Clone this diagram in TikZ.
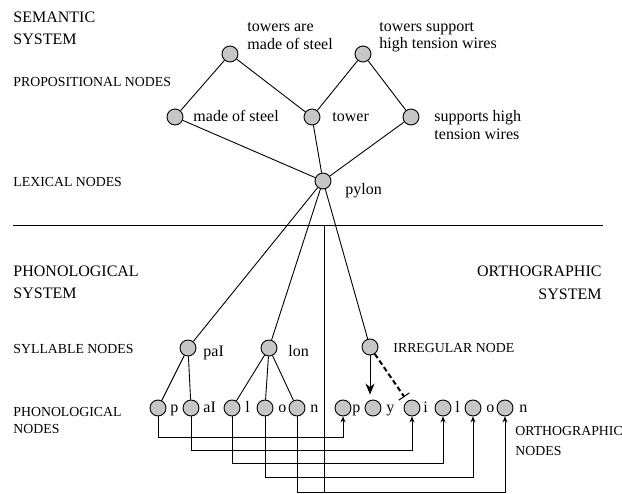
\documentclass[tikz,border=0pt]{standalone}
\usepackage{fontspec}
\setmainfont{LiberationSerif}[Extension=.ttf, UprightFont=*-Regular, BoldFont=*-Bold]
\usetikzlibrary{arrows.meta}
\definecolor{dotgray}{RGB}{198,198,198}
\begin{document}
\begin{tikzpicture}[x=1pt,y=-1pt, line width=0.9pt,
  dot/.style={circle,draw,fill=dotgray,minimum size=16pt,inner sep=0pt},
  big/.style={font=\rmfamily\fontsize{16}{18}\selectfont, inner sep=0pt, anchor=base west},
  lab/.style={font=\rmfamily\fontsize{16}{18}\selectfont, inner sep=0pt, anchor=base west},
  capsl/.style={font=\rmfamily\fontsize{13.8}{16}\selectfont, inner sep=0pt, anchor=base west},
  tipa/.style={-{Stealth[length=6pt,width=5pt]}},
  bigtip/.style={-{Stealth[length=11pt,width=9pt]}, shorten >=5pt},
  inhib/.style={line width=2pt, dash pattern=on 5pt off 3pt, -{Bar[width=13pt,line width=1pt]}, shorten >=5pt}
]
\useasboundingbox (0,0) rectangle (622,494);

% nodes
\node[dot] (tam) at (230,54) {};
\node[dot] (tsh) at (363,54) {};
\node[dot] (mos) at (175,117) {};
\node[dot] (tow) at (312,117) {};
\node[dot] (sht) at (411,117) {};
\node[dot] (pyl) at (323,181) {};
\node[dot] (pai) at (188,348) {};
\node[dot] (lon) at (269,348) {};
\node[dot] (irr) at (370,347) {};
\node[dot] (ph1) at (158,408) {};
\node[dot] (ph2) at (191,408) {};
\node[dot] (ph3) at (232,408) {};
\node[dot] (ph4) at (265,408) {};
\node[dot] (ph5) at (297,408) {};
\node[dot] (or1) at (343,408) {};
\node[dot] (or2) at (373,408) {};
\node[dot] (or3) at (412,408) {};
\node[dot] (or4) at (443,408) {};
\node[dot] (or5) at (473,408) {};
\node[dot] (or6) at (505,408) {};

% semantic links
\draw (tam) -- (mos);
\draw (tam) -- (tow);
\draw (tsh) -- (tow);
\draw (tsh) -- (sht);
\draw (mos) -- (pyl);
\draw (tow) -- (pyl);
\draw (sht) -- (pyl);
\draw (pyl) -- (pai);
\draw (pyl) -- (lon);
\draw (pyl) -- (irr);
\draw (pai) -- (ph1);
\draw (pai) -- (ph2);
\draw (lon) -- (ph3);
\draw (lon) -- (ph4);
\draw (lon) -- (ph5);

% divider
\coordinate (hl) at (13,225);
\coordinate (hr) at (603,225);
\draw (hl) -- (hr);
\coordinate (vt) at (324,225);
\coordinate (vb) at (324,492);
\draw (vt) -- (vb);

% phonological to orthographic
\coordinate (l1) at (0,437);
\coordinate (l2) at (0,450);
\coordinate (l3) at (0,463);
\coordinate (l4) at (0,477);
\coordinate (l5) at (0,492);
\draw[tipa] (ph1.south) |- (or1 |- l1) -- (or1.south);
\draw[tipa] (ph2.south) |- (or3 |- l2) -- (or3.south);
\draw[tipa] (ph3.south) |- (or4 |- l3) -- (or4.south);
\draw[tipa] (ph4.south) |- (or5 |- l4) -- (or5.south);
\draw[tipa] (ph5.south) |- (or6 |- l5) -- (or6.south);

% irregular node
\draw[bigtip] (irr) -- (irr |- or2.north);
\draw[inhib] (irr) -- (or3);

% left labels
\node[big] (s1a) at (13,23) {SEMANTIC};
\node[big] (s1b) at (13,45) {SYSTEM};
\node[capsl] (s2) at (13,87) {PROPOSITIONAL NODES};
\node[capsl] (s3) at (13,187) {LEXICAL NODES};
\node[big] (s4a) at (13,277) {PHONOLOGICAL};
\node[big] (s4b) at (13,299) {SYSTEM};
\node[capsl] (s5) at (13,354) {SYLLABLE NODES};
\node[capsl] (s6a) at (13,417) {PHONOLOGICAL};
\node[capsl] (s6b) at (13,434) {NODES};
\node[big,anchor=base east] (s7a) at (602,277) {ORTHOGRAPHIC};
\node[big,anchor=base east] (s7b) at (602,300) {SYSTEM};
\node[capsl] (s8a) at (515,436) {ORTHOGRAPHIC};
\node[capsl] (s8b) at (515,456) {NODES};
\node[capsl] (s9) at (393,353) {IRREGULAR NODE};

% node labels
\node[lab] (a1) at (247,32) {towers are};
\node[lab] (a2) at (247,50) {made of steel};
\node[lab] (b1) at (379,32) {towers support};
\node[lab] (b2) at (379,49) {high tension wires};
\node[lab] (c1) at (193,122) {made of steel};
\node[lab] (c2) at (332,122) {tower};
\node[lab] (c3) at (434,122) {supports high};
\node[lab] (c4) at (434,140) {tension wires};
\node[lab] (c5) at (345,195) {pylon};
\node[lab] (d1) at (203,357) {paI};
\node[lab] (d2) at (288,357) {lon};
\node[lab] (p1) at (170,413) {p};
\node[lab] (p2) at (203,413) {aI};
\node[lab] (p3) at (245,413) {l};
\node[lab] (p4) at (278,413) {o};
\node[lab] (p5) at (310,413) {n};
\node[lab] (o1) at (352,413) {p};
\node[lab] (o2) at (386,413) {y};
\node[lab] (o3) at (423,413) {i};
\node[lab] (o4) at (455,413) {l};
\node[lab] (o5) at (486,413) {o};
\node[lab] (o6) at (519,413) {n};
\end{tikzpicture}
\end{document}
